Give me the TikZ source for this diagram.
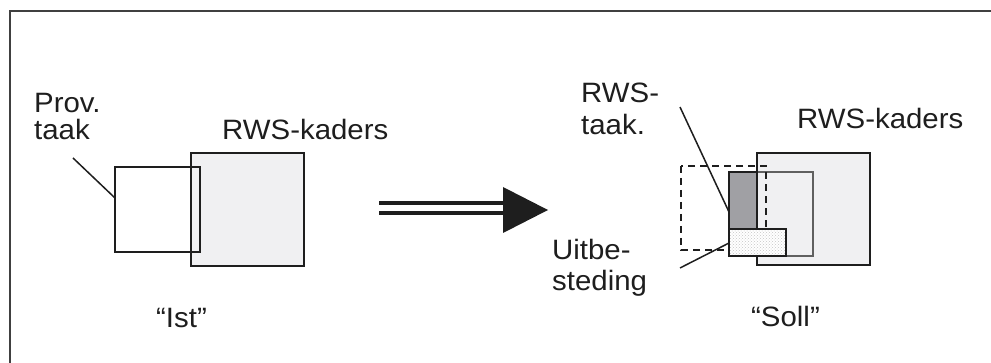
\documentclass[tikz,border=0pt]{standalone}
\usepackage{fontspec}
\setmainfont{Liberation Sans}
\usetikzlibrary{patterns}
\newcommand{\lbl}[1]{\scalebox{1.05}[1]{\fontsize{28}{30}\selectfont #1}}
\definecolor{inkc}{HTML}{1E1E1E}
\definecolor{lightfill}{HTML}{F0F0F2}
\definecolor{darkfill}{HTML}{A0A0A4}
\begin{document}
\begin{tikzpicture}[x=1pt,y=-1pt,
  txt/.style={anchor=base west, inner sep=0pt, text=inkc},
  boxline/.style={draw=inkc, line width=1.8pt},
  leader/.style={draw=inkc, line width=1.5pt},
  thinbox/.style={draw=gray!75!black, line width=1.3pt}]
\useasboundingbox (0,0) rectangle (991,363);
% frame
\draw[line width=2.2pt, draw=inkc!85] (10,363) -- (10,11) -- (991,11);

% ---------- left ("Ist") ----------
\node[txt] (prov1) at (34,113) {\lbl{Prov.}};
\node[txt] (prov2) at (34,140) {\lbl{taak}};
\node[txt] (kadL) at (222,140) {\lbl{RWS-kaders}};
\node[txt] (ist) at (156,328) {\lbl{“Ist”}};

\fill[lightfill] (191,153) rectangle (304,266);
\draw[boxline] (115,167) rectangle (200,252);
\draw[boxline] (191,153) rectangle (304,266);
\coordinate (provA) at (73,158);
\coordinate (provB) at (115,198);
\draw[leader] (provA) -- (provB);

% ---------- arrow ----------
\coordinate (arS1) at (379,203);
\coordinate (arE1) at (507,203);
\coordinate (arS2) at (379,213);
\coordinate (arE2) at (507,213);
\draw[line width=4.2pt, inkc] (arS1) -- (arE1);
\draw[line width=4.2pt, inkc] (arS2) -- (arE2);
\coordinate (tipT) at (503,187);
\coordinate (tipP) at (548,210);
\coordinate (tipB) at (503,233);
\fill[inkc] (tipT) -- (tipP) -- (tipB) -- cycle;

% ---------- right ("Soll") ----------
\node[txt] (rws1) at (581,103) {\lbl{RWS-}};
\node[txt] (rws2) at (581,135) {\lbl{taak.}};
\node[txt] (kadR) at (797,129) {\lbl{RWS-kaders}};
\node[txt] (uit1) at (552,260) {\lbl{Uitbe-}};
\node[txt] (uit2) at (552,291) {\lbl{steding}};
\node[txt] (soll) at (751,327) {\lbl{“Soll”}};

\fill[lightfill] (757,153) rectangle (870,265);
\draw[boxline] (757,153) rectangle (870,265);
\draw[thinbox] (729,172) rectangle (813,256);
\draw[boxline, fill=darkfill] (729,172) rectangle (757,229);
\draw[boxline, dashed, dash pattern=on 7pt off 5pt] (681,166) rectangle (766,250);
\fill[white] (729,229) rectangle (786,256);
\fill[pattern=crosshatch dots, pattern color=gray!45] (729,229) rectangle (786,256);
\draw[boxline] (729,229) rectangle (786,256);

\coordinate (rwsA) at (680,107);
\coordinate (rwsB) at (729,212);
\draw[leader] (rwsA) -- (rwsB);
\coordinate (uitA) at (680,268);
\coordinate (uitB) at (729,243);
\draw[leader] (uitA) -- (uitB);
\end{tikzpicture}
\end{document}
